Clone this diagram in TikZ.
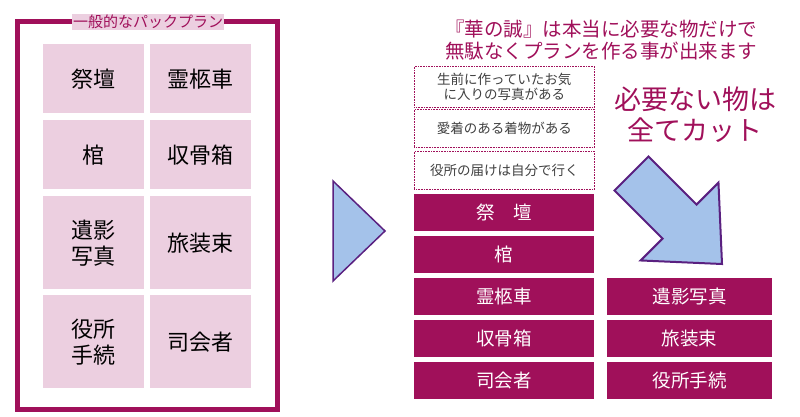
\documentclass[tikz,border=0pt]{standalone}
\usepackage{fontspec}
\setmainfont{Noto Sans CJK JP}
\definecolor{mag}{HTML}{A0105A}
\definecolor{pinkc}{HTML}{ECCFE0}
\definecolor{abl}{HTML}{A4C2EA}
\definecolor{apu}{HTML}{5A2080}
\begin{document}
\begin{tikzpicture}[x=1pt,y=-1pt,
 cell/.style={fill=pinkc,minimum width=101pt,anchor=north west,inner sep=0,font=\fontsize{22}{26}\selectfont,align=center},
 dbox/.style={draw=mag,densely dotted,line width=0.6pt,minimum width=180pt,anchor=north west,inner sep=0,font=\fontsize{13.5}{15}\selectfont,text=black!75,align=center},
 mbox/.style={fill=mag,text=white,anchor=north west,inner sep=0,font=\fontsize{18.5}{20}\selectfont}]
\useasboundingbox (0,0) rectangle (800,417);
\draw[mag,line width=5pt] (17,22) rectangle (277,409);
\node[fill=pinkc,text=mag,inner sep=1pt,font=\fontsize{15}{16}\selectfont] (t) at (148,22) {一般的なパックプラン};
\node[cell,minimum height=69pt] (a1) at (43,44) {祭壇};
\node[cell,minimum height=69pt] (a2) at (150,44) {霊柩車};
\node[cell,minimum height=69pt] (b1) at (43,120) {棺};
\node[cell,minimum height=69pt] (b2) at (150,120) {収骨箱};
\node[cell,minimum height=93pt] (c1) at (43,196) {遺影\\写真};
\node[cell,minimum height=93pt] (c2) at (150,196) {旅装束};
\node[cell,minimum height=93pt] (d1) at (43,295) {役所\\手続};
\node[cell,minimum height=93pt] (d2) at (150,295) {司会者};
\draw[apu,fill=abl,line width=1.5pt] (333,181) -- (385,231) -- (333,281) -- cycle;
\node[text=mag,font=\fontsize{19.5}{22}\selectfont,align=center] (h) at (601,40) {『華の誠』は本当に必要な物だけで\\無駄なくプランを作る事が出来ます};
\node[dbox,minimum height=41pt] (e1) at (414,66) {生前に作っていたお気\\に入りの写真がある};
\node[dbox,minimum height=38pt] (e2) at (414,109) {愛着のある着物がある};
\node[dbox,minimum height=38pt] (e3) at (414,151) {役所の届けは自分で行く};
\node[mbox,minimum width=180pt,minimum height=37pt] (m1) at (414,194) {祭\quad 壇};
\node[mbox,minimum width=180pt,minimum height=37pt] (m2) at (414,236) {棺};
\node[mbox,minimum width=180pt,minimum height=37pt] (m3) at (414,278) {霊柩車};
\node[mbox,minimum width=180pt,minimum height=37pt] (m4) at (414,320) {収骨箱};
\node[mbox,minimum width=180pt,minimum height=37pt] (m5) at (414,362) {司会者};
\node[mbox,minimum width=165pt,minimum height=37pt] (r1) at (607,278) {遺影写真};
\node[mbox,minimum width=165pt,minimum height=37pt] (r2) at (607,320) {旅装束};
\node[mbox,minimum width=165pt,minimum height=37pt] (r3) at (607,362) {役所手続};
\node[text=mag,font=\fontsize{27}{31}\selectfont,align=center] (cut) at (695,115) {必要ない物は\\全てカット};
\begin{scope}[shift={(722,264)},rotate=135]
\draw[apu,fill=abl,line width=2pt] (0,0) -- (60,-55) -- (60,-24) -- (128,-24) -- (128,24) -- (60,24) -- (60,55) -- cycle;
\end{scope}
\end{tikzpicture}
\end{document}
